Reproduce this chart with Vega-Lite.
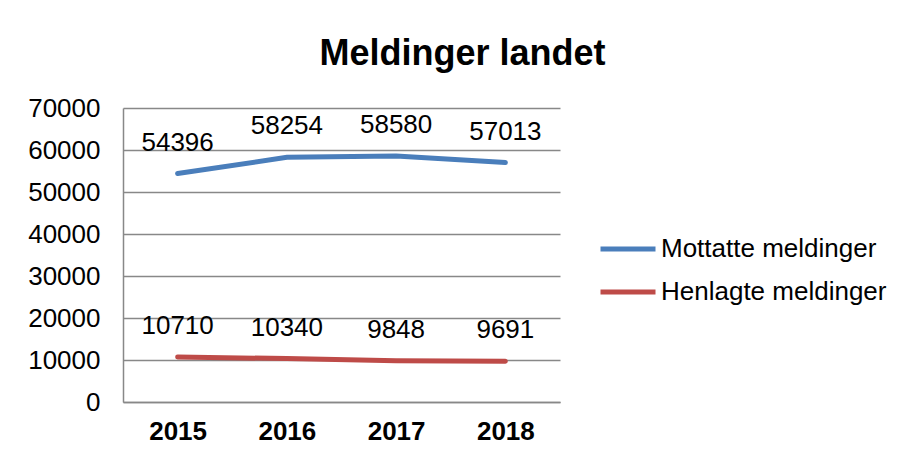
{
  "$schema": "https://vega.github.io/schema/vega-lite/v6.json",
  "width": 437,
  "height": 294,
  "autosize": {"type": "none"},
  "padding": {"left": 123, "top": 108, "right": 341, "bottom": 57},
  "background": "white",
  "title": {
    "text": "Meldinger landet",
    "font": "Liberation Sans",
    "fontSize": 36,
    "fontWeight": "bold",
    "color": "black",
    "anchor": "middle",
    "frame": "group",
    "dx": 121,
    "offset": 22
  },
  "config": {
    "view": {"stroke": null},
    "font": "Liberation Sans"
  },
  "data": {
    "values": [
      {"year": "2015", "series": "Mottatte meldinger", "value": 54396},
      {"year": "2016", "series": "Mottatte meldinger", "value": 58254},
      {"year": "2017", "series": "Mottatte meldinger", "value": 58580},
      {"year": "2018", "series": "Mottatte meldinger", "value": 57013},
      {"year": "2015", "series": "Henlagte meldinger", "value": 10710},
      {"year": "2016", "series": "Henlagte meldinger", "value": 10340},
      {"year": "2017", "series": "Henlagte meldinger", "value": 9848},
      {"year": "2018", "series": "Henlagte meldinger", "value": 9691}
    ]
  },
  "encoding": {
    "x": {
      "field": "year",
      "type": "ordinal",
      "scale": {"padding": 0.5},
      "axis": {
        "title": null,
        "labelAngle": 0,
        "labelFontSize": 26,
        "labelFontWeight": "bold",
        "labelColor": "black",
        "labelPadding": 16,
        "ticks": false,
        "domainColor": "#888888",
        "domainWidth": 1.5
      }
    },
    "y": {
      "field": "value",
      "type": "quantitative",
      "scale": {"domain": [0, 70000], "nice": false},
      "axis": {
        "title": null,
        "values": [0, 10000, 20000, 30000, 40000, 50000, 60000, 70000],
        "format": "d",
        "labelFontSize": 26,
        "labelColor": "black",
        "labelPadding": 23,
        "ticks": false,
        "domainColor": "#888888",
        "domainWidth": 1.5,
        "gridColor": "#888888",
        "gridWidth": 1.5
      }
    },
    "color": {
      "field": "series",
      "type": "nominal",
      "scale": {
        "domain": ["Mottatte meldinger", "Henlagte meldinger"],
        "range": ["#4A7EBB", "#BE4B48"]
      },
      "legend": {
        "title": null,
        "orient": "none",
        "legendX": 475,
        "legendY": 111,
        "labelFontSize": 26,
        "labelColor": "black",
        "labelOffset": 3,
        "labelLimit": 0,
        "symbolType": "stroke",
        "symbolSize": 3025,
        "symbolStrokeWidth": 5,
        "rowPadding": -8
      }
    }
  },
  "layer": [
    {
      "mark": {"type": "line", "strokeWidth": 5, "strokeCap": "round"}
    },
    {
      "mark": {"type": "text", "fontSize": 26, "dy": -31, "color": "black"},
      "encoding": {
        "text": {"field": "value", "type": "quantitative", "format": "d"},
        "color": {"value": "black"}
      }
    }
  ]
}
